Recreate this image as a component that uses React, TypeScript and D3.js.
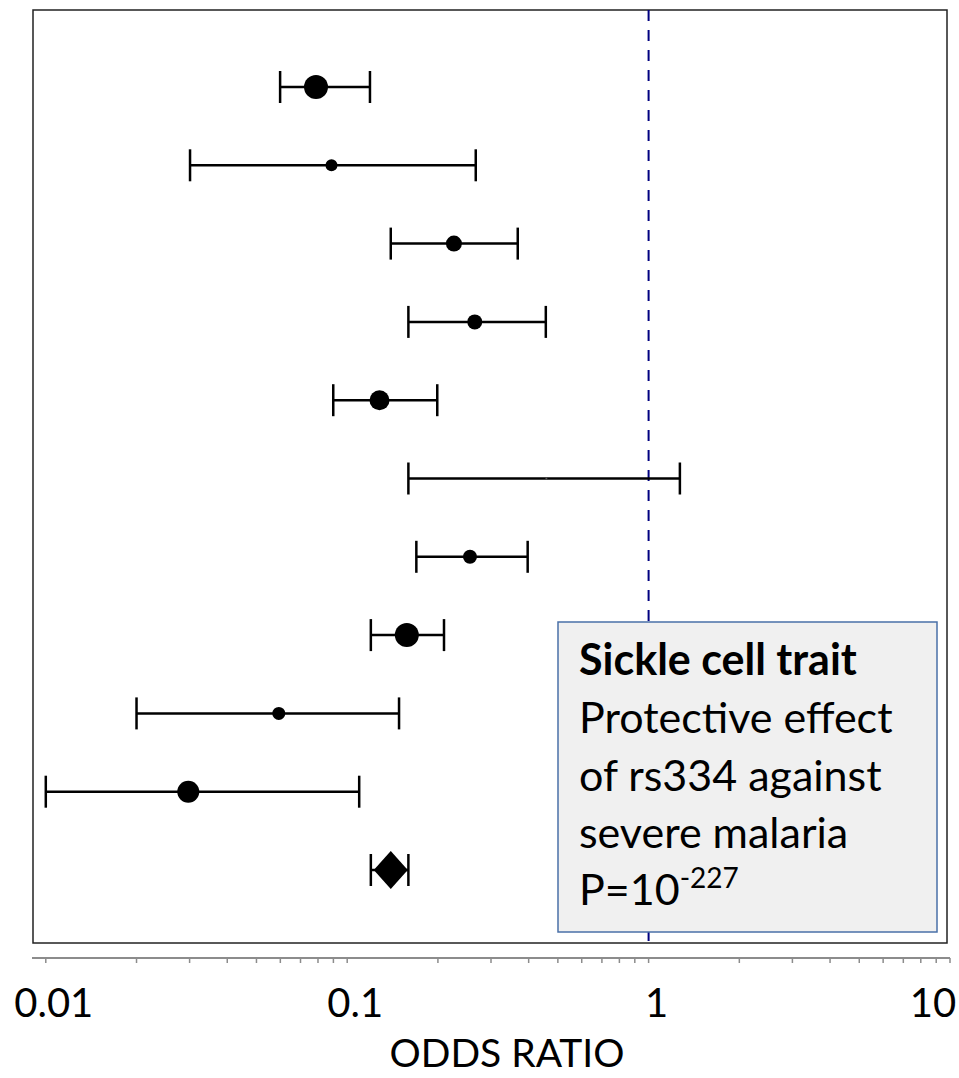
import React from "react";
import * as d3 from "d3";

// Study estimates (odds ratio with 95% CI), top to bottom
const studyIds = ["s1", "s2", "s3", "s4", "s5", "s6", "s7", "s8", "s9", "s10"];
const oddsRatio = [0.0788, 0.0887, 0.226, 0.265, 0.128, 0.458, 0.2555, 0.1577, 0.0593, 0.0297];
const ciLower = [0.0599, 0.0301, 0.1395, 0.1596, 0.0899, 0.1596, 0.1696, 0.1198, 0.02, 0.01];
const ciUpper = [0.119, 0.267, 0.368, 0.456, 0.199, 1.27, 0.397, 0.2095, 0.1486, 0.1096];
const studyWeight = [144, 36, 64, 56, 100, 1, 49, 144, 42, 121];

// Pooled estimate
const pooledOR = 0.1395;
const pooledLower = 0.1198;
const pooledUpper = 0.1596;

const tickLabels = ["0.01", "0.1", "1", "10"];

const legendLines = [
  "Protective effect",
  "of rs334 against",
  "severe malaria",
];

const FONT = "Lato, 'Open Sans', sans-serif";

const App = () => {
  const width = 959;
  const height = 1078;
  const frame = { left: 33, top: 10, right: 947, bottom: 943 };
  const axisY = 958;

  const x = d3.scaleLog().domain([0.009, 10]).range([32, 950]);
  const rows = [...studyIds, "pooled"];
  const y = d3.scalePoint<string>().domain(rows).range([87, 870]);
  const r = d3.scaleSqrt().domain([0, 144]).range([0, 12]);

  const ticks = x.ticks().filter((t) => t >= 0.01 - 1e-9);
  const capH = 16;

  const diamond = (() => {
    const cx = x(pooledOR);
    const cy = y("pooled")!;
    const hw = 17;
    const hh = 19;
    return `M${cx - hw},${cy} L${cx},${cy - hh} L${cx + hw},${cy} L${cx},${cy + hh} Z`;
  })();

  const legend = { x: 558, y: 622, w: 379, h: 310 };

  return (
    <svg
      width={width}
      height={height}
      style={{ position: "absolute", left: 0, top: 0, background: "#fff" }}
    >
      <rect width={width} height={height} fill="#fff" />
      {/* plot frame */}
      <rect
        x={frame.left}
        y={frame.top}
        width={frame.right - frame.left}
        height={frame.bottom - frame.top}
        fill="none"
        stroke="#222"
        strokeWidth={1.5}
      />
      {/* reference line at OR = 1 */}
      <line
        x1={x(1)}
        x2={x(1)}
        y1={frame.top}
        y2={frame.bottom}
        stroke="#000080"
        strokeWidth={2}
        strokeDasharray="11,9"
      />

      {/* confidence intervals */}
      {studyIds.map((id, i) => {
        const cy = y(id)!;
        const x0 = x(ciLower[i]);
        const x1 = x(ciUpper[i]);
        return (
          <g key={id} stroke="#000" strokeWidth={2.5}>
            <line x1={x0} x2={x1} y1={cy} y2={cy} />
            <line x1={x0} x2={x0} y1={cy - capH} y2={cy + capH} />
            <line x1={x1} x2={x1} y1={cy - capH} y2={cy + capH} />
          </g>
        );
      })}
      {studyIds.map((id, i) => (
        <circle
          key={id + "-pt"}
          cx={x(oddsRatio[i])}
          cy={y(id)!}
          r={r(studyWeight[i])}
          fill={studyWeight[i] < 4 ? "#555" : "#000"}
        />
      ))}

      {/* pooled */}
      <g stroke="#000" strokeWidth={2.5}>
        <line x1={x(pooledLower)} x2={x(pooledUpper)} y1={y("pooled")!} y2={y("pooled")!} />
        <line
          x1={x(pooledLower)}
          x2={x(pooledLower)}
          y1={y("pooled")! - capH}
          y2={y("pooled")! + capH}
        />
        <line
          x1={x(pooledUpper)}
          x2={x(pooledUpper)}
          y1={y("pooled")! - capH}
          y2={y("pooled")! + capH}
        />
      </g>
      <path d={diamond} fill="#000" />

      {/* legend box */}
      <rect
        x={legend.x}
        y={legend.y}
        width={legend.w}
        height={legend.h}
        fill="#f0f0f0"
        stroke="#4a70a8"
        strokeWidth={1.5}
      />
      <g fontFamily={FONT} fontSize={43} fill="#000">
        <text x={579} y={675} fontWeight="bold">
          Sickle cell trait
        </text>
        {legendLines.map((t, i) => (
          <text key={t} x={579} y={733 + i * 57.5}>
            {t}
          </text>
        ))}
        <text x={579} y={905}>
          P=10
          <tspan fontSize={28} dy={-17}>
            -227
          </tspan>
        </text>
      </g>

      {/* x axis */}
      <line x1={32} x2={950} y1={axisY} y2={axisY} stroke="#8c8c8c" strokeWidth={2} />
      {ticks.map((t, i) => (
        <line
          key={i}
          x1={x(t)}
          x2={x(t)}
          y1={axisY}
          y2={axisY + 5}
          stroke="#8c8c8c"
          strokeWidth={1.5}
        />
      ))}
      {tickLabels.map((l) => (
        <text
          key={l}
          x={Math.min(x(+l) + 8, 933)}
          y={1017}
          textAnchor="middle"
          fontFamily={FONT}
          fontSize={40}
          fill="#000"
        >
          {l}
        </text>
      ))}
      <text
        x={507}
        y={1067}
        textAnchor="middle"
        fontFamily={FONT}
        fontSize={39}
        fill="#000"
      >
        ODDS RATIO
      </text>
    </svg>
  );
};

export default App;
